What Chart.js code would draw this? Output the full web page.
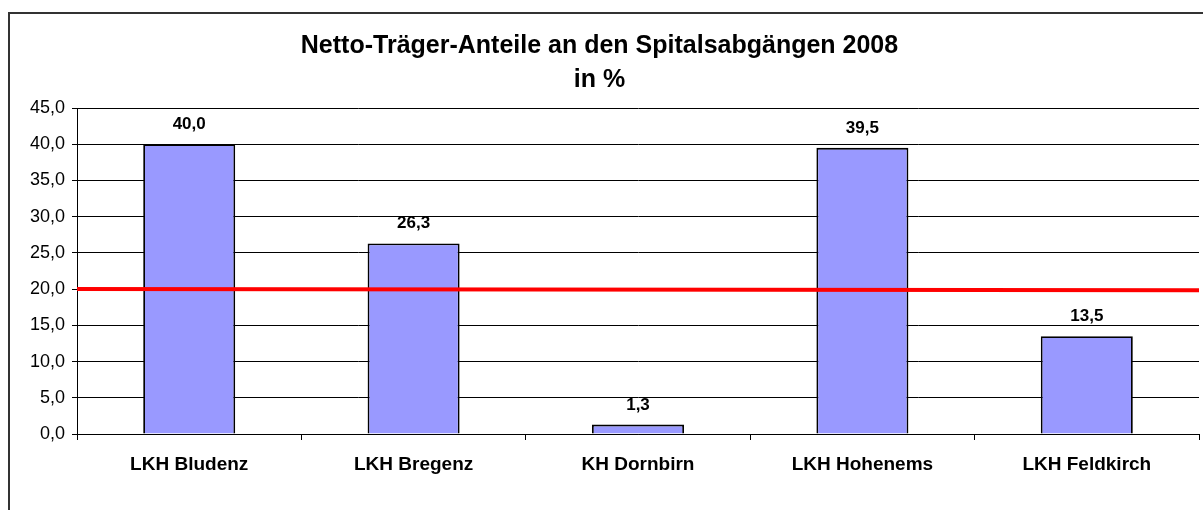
<!DOCTYPE html>
<html>
<head>
<meta charset="utf-8">
<script src="https://cdn.jsdelivr.net/npm/chart.js@4/dist/chart.umd.min.js"></script>
<style>
  html, body { margin: 0; padding: 0; background: #fff; }
  #wrap { position: relative; width: 1203px; height: 510px; }
  #frame {
    position: absolute; left: 8px; top: 12px; width: 1220px; height: 540px;
    border-left: 2px solid #333; border-top: 2px solid #333;
  }
  canvas { position: absolute; left: 0; top: 0; }
</style>
</head>
<body>
<div id="wrap">
  <div id="frame"></div>
  <canvas id="chart" width="1203" height="510"></canvas>
</div>
<script>
const categories = ["LKH Bludenz", "LKH Bregenz", "KH Dornbirn", "LKH Hohenems", "LKH Feldkirch"];
const shares = [40.0, 26.3, 1.3, 39.5, 13.5];
// red reference line, value at left and right edge of the plot
const refLine = [20.0, 19.85];
const yTicks = [0, 5, 10, 15, 20, 25, 30, 35, 40, 45];

const FONT = "'Liberation Sans', Arial, sans-serif";
const fmt = (v) => v.toFixed(1).replace(".", ",");

// value labels above the bars
const barLabels = {
  id: "barLabels",
  afterDatasetsDraw(chart) {
    const ctx = chart.ctx;
    const meta = chart.getDatasetMeta(0);
    ctx.save();
    ctx.font = "bold 17px " + FONT;
    ctx.fillStyle = "#000";
    ctx.textAlign = "center";
    ctx.textBaseline = "alphabetic";
    meta.data.forEach((bar, i) => {
      ctx.fillText(fmt(shares[i]), bar.x, bar.y - 15);
    });
    ctx.restore();
  }
};

new Chart(document.getElementById("chart"), {
  data: {
    labels: categories,
    datasets: [
      {
        type: "bar",
        data: shares,
        backgroundColor: "#9999FF",
        borderColor: "#000",
        borderWidth: 1.8,
        grouped: false,
        categoryPercentage: 1,
        barPercentage: 0.41,
        order: 2
      },
      {
        type: "line",
        xAxisID: "x2",
        data: refLine.map((v, i) => ({ x: i, y: v })),
        borderColor: "#FF0000",
        borderWidth: 4,
        pointRadius: 0,
        clip: false,
        order: 1
      }
    ]
  },
  options: {
    responsive: false,
    animation: false,
    layout: { padding: { left: 0, right: 4, top: 0, bottom: 34 } },
    plugins: {
      legend: { display: false },
      tooltip: { enabled: false },
      title: {
        display: true,
        text: ["Netto-Träger-Anteile an den Spitalsabgängen 2008", "in %"],
        color: "#000",
        font: { family: FONT, size: 25, weight: "bold", lineHeight: 1.36 },
        padding: { top: 29, bottom: 11 }
      }
    },
    scales: {
      x: {
        afterFit(scale) { scale.height = 42; },
        grid: { display: true, drawOnChartArea: false, drawTicks: true, tickLength: 6, color: "#000", offset: true },
        border: { color: "#000", width: 1 },
        ticks: {
          color: "#000",
          padding: 13,
          font: { family: FONT, size: 19, weight: "bold" }
        }
      },
      x2: {
        type: "linear",
        display: false,
        min: 0,
        max: 1
      },
      y: {
        min: 0,
        max: 45,
        afterBuildTicks(scale) {
          scale.ticks = yTicks.map((v) => ({ value: v }));
        },
        afterFit(scale) { scale.width = 77; },
        grid: { color: "#000", lineWidth: 1, tickLength: 5 },
        border: { color: "#000", width: 1 },
        ticks: {
          color: "#000",
          padding: 7,
          font: { family: FONT, size: 18 },
          callback: (v) => fmt(v)
        }
      }
    }
  },
  plugins: [barLabels]
});
</script>
</body>
</html>
